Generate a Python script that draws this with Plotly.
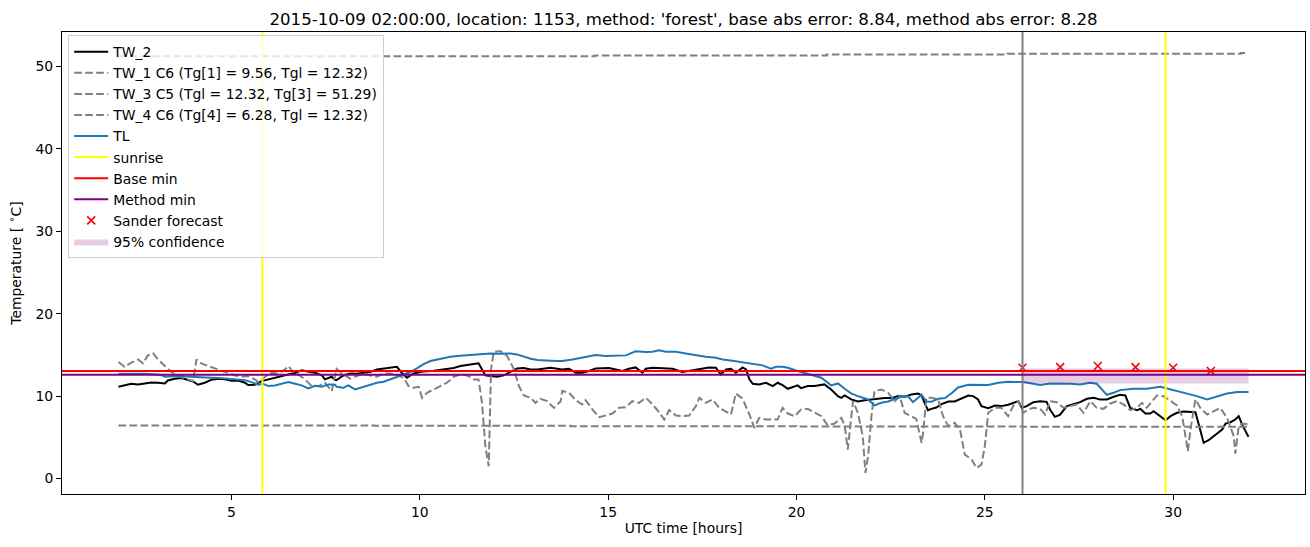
import plotly.graph_objects as go

TITLE = "2015-10-09 02:00:00, location: 1153, method: 'forest', base abs error: 8.84, method abs error: 8.28"

# ---- TW_2 (black) ----
tw2_hours = [2.0, 2.16, 2.34, 2.52, 2.69, 2.87, 3.05, 3.23, 3.31, 3.49, 3.67, 3.85, 3.98, 4.11, 4.29, 4.47, 4.65, 4.82, 5.00, 5.18, 5.36, 5.44, 5.62, 5.80, 5.98, 6.15, 6.33, 6.51, 6.69, 6.86, 7.04, 7.22, 7.40, 7.48, 7.66, 7.75,
             7.79, 7.97, 8.15, 8.33, 8.50, 8.68, 8.86, 9.04, 9.21, 9.39, 9.52, 9.66, 9.83, 10.10, 10.37, 10.63, 10.90, 11.08, 11.25, 11.43, 11.56, 11.65, 11.74, 11.87, 12.05, 12.23, 12.41, 12.58, 12.76, 12.94, 13.12, 13.29, 13.47, 13.65,
             13.78, 13.96, 14.14, 14.31, 14.49, 14.67, 14.85, 15.02, 15.20, 15.38, 15.55, 15.73, 15.91, 16.00, 16.18, 16.44, 16.71, 16.97, 17.24, 17.51, 17.68, 17.86, 17.99, 18.13, 18.26, 18.39, 18.57, 18.66, 18.75, 18.84, 19.01, 19.19, 19.37, 19.50, 19.63,
             19.77, 19.95, 20.03, 20.12, 20.30, 20.48, 20.66, 20.74, 20.92, 21.10, 21.19, 21.28, 21.45, 21.63, 21.81, 21.99, 22.16, 22.34, 22.52, 22.70, 22.87, 23.05, 23.23, 23.32, 23.40, 23.49, 23.58, 23.71, 23.85, 24.03, 24.20, 24.38, 24.56, 24.69, 24.82, 24.91, 25.09, 25.27, 25.44, 25.62,
             25.76, 25.89, 25.98, 26.11, 26.29, 26.47, 26.64, 26.73, 26.86, 26.99, 27.18, 27.35, 27.53, 27.71, 27.89, 28.06, 28.24, 28.42, 28.59, 28.73, 28.86, 29.04, 29.13, 29.26, 29.39, 29.48, 29.66, 29.80, 29.93, 30.10, 30.28, 30.46, 30.59, 30.68, 30.81, 30.94, 31.08, 31.21, 31.30, 31.39, 31.52, 31.65, 31.74, 31.83, 32.0]
tw2_temp = [11.13, 11.34, 11.50, 11.42, 11.58, 11.66, 11.62, 11.54, 11.90, 12.11, 12.19, 11.94, 11.78, 11.38, 11.62, 11.99, 12.11, 12.03, 11.86, 11.90, 11.62, 11.34, 11.38, 11.82, 12.03, 12.19, 12.35, 12.63, 12.84, 13.12, 13.00, 12.84, 12.51, 12.03, 12.35, 11.94,
            11.94, 12.51, 12.75, 12.71, 12.84, 12.92, 13.24, 13.36, 13.40, 13.56, 12.84, 12.23, 12.75, 13.00, 13.08, 13.24, 13.40, 13.65, 13.73, 13.89, 13.97, 13.24, 12.51, 12.43, 12.35, 12.51, 12.92, 13.36, 13.40, 13.24, 13.24, 13.36, 13.44, 13.32,
            13.24, 13.32, 12.84, 12.84, 13.04, 13.36, 13.36, 13.40, 13.24, 13.04, 13.32, 13.48, 12.84, 13.32, 13.44, 13.36, 13.32, 12.92, 13.16, 13.32, 13.48, 13.44, 12.63, 13.24, 13.32, 12.84, 13.48, 13.24, 12.03, 11.50, 11.42, 11.62, 11.22, 11.62, 11.34,
            10.89, 11.13, 11.30, 10.97, 11.22, 11.22, 11.34, 11.42, 10.81, 10.00, 9.80, 10.08, 9.60, 9.35, 9.51, 9.60, 9.72, 9.76, 9.76, 10.00, 9.92, 10.20, 10.32, 10.08, 9.19, 8.30, 8.46, 8.62, 9.03, 9.35, 9.35, 9.72, 10.08, 10.00, 9.60, 8.79, 8.54, 8.87, 8.79, 8.95,
            9.19, 9.39, 8.58, 8.79, 9.27, 9.39, 9.31, 8.38, 7.49, 7.73, 8.79, 9.07, 9.27, 9.68, 9.80, 9.60, 9.60, 9.92, 10.16, 10.08, 8.58, 8.30, 8.46, 7.89, 7.89, 8.18, 7.57, 7.08, 7.57, 7.98, 8.14, 8.06, 8.06, 6.56, 4.33, 4.65, 5.14, 5.63, 5.95, 6.68, 6.84, 7.16, 7.57, 6.56, 5.06]

# ---- TW_1 (grey dashed, variable) ----
tw1_hours = [2.0, 2.16, 2.34, 2.52, 2.65, 2.78, 2.92, 3.05, 3.23, 3.40, 3.58, 3.85, 3.98, 4.07, 4.20, 4.38, 4.56, 4.73, 4.91, 5.09, 5.27, 5.44, 5.62, 5.71, 5.89, 6.06, 6.24, 6.42, 6.51, 6.64, 6.77, 6.95, 7.13, 7.31, 7.48, 7.66, 7.79,
             7.97, 8.15, 8.33, 8.50, 8.68, 8.86, 9.04, 9.21, 9.39, 9.57, 9.70, 9.83, 9.97, 10.06, 10.19, 10.37, 10.54, 10.72, 10.90, 11.08, 11.25, 11.43, 11.56, 11.65, 11.74, 11.83, 11.89, 11.96, 12.14, 12.32, 12.50, 12.63, 12.76, 12.94, 13.07, 13.20, 13.38, 13.56, 13.74,
             13.78, 13.96, 14.14, 14.31, 14.40, 14.58, 14.76, 14.93, 15.11, 15.29, 15.47, 15.64, 15.82, 16.00, 16.18, 16.35, 16.49, 16.62, 16.80, 16.97, 17.15, 17.33, 17.42, 17.59, 17.77, 17.95, 18.13, 18.26, 18.39, 18.57, 18.75, 18.88, 19.01, 19.19, 19.37, 19.50, 19.63,
             19.77, 19.95, 20.12, 20.30, 20.48, 20.66, 20.83, 21.01, 21.19, 21.28, 21.36, 21.50, 21.63, 21.76, 21.83, 21.90, 21.99, 22.07, 22.25, 22.43, 22.61, 22.74, 22.87, 23.05, 23.18, 23.32, 23.36, 23.45, 23.58, 23.76, 23.89, 24.03, 24.20, 24.34, 24.47, 24.65, 24.78, 24.91, 25.00, 25.09, 25.27, 25.44, 25.62,
             25.76, 25.89, 26.02, 26.16, 26.29, 26.47, 26.60, 26.73, 26.91, 27.09, 27.26, 27.44, 27.62, 27.80, 27.97, 28.15, 28.33, 28.51, 28.68, 28.86, 29.04, 29.17, 29.30, 29.44, 29.57, 29.75, 29.93, 30.10, 30.24, 30.32, 30.39, 30.46, 30.59, 30.72, 30.90, 31.08, 31.25, 31.43, 31.61, 31.65, 31.74, 31.83, 32.0]
tw1_temp = [14.13, 13.56, 14.05, 14.45, 13.97, 14.94, 15.18, 14.45, 13.65, 12.92, 12.43, 12.03, 11.82, 14.45, 13.97, 13.65, 13.32, 13.08, 12.84, 12.51, 12.35, 12.43, 12.03, 11.70, 12.35, 12.84, 12.75, 13.24, 13.65, 12.92, 12.63, 12.03, 11.22, 11.22, 11.62, 10.61, 13.32,
            12.63, 12.11, 12.43, 12.75, 12.51, 12.35, 12.75, 12.75, 12.51, 12.23, 11.22, 11.01, 11.13, 9.80, 10.41, 10.81, 11.22, 11.62, 12.35, 12.63, 12.51, 12.03, 12.03, 9.19, 3.92, 1.50, 13.24, 15.35, 15.47, 14.86, 13.24, 11.22, 10.08, 9.80, 9.19, 9.68, 9.39, 8.58, 9.39,
            10.61, 10.41, 9.51, 8.99, 9.51, 8.38, 7.45, 7.65, 7.89, 8.58, 8.66, 9.39, 9.19, 9.80, 8.99, 8.06, 7.16, 8.30, 7.65, 7.57, 7.65, 8.79, 9.80, 9.19, 9.60, 8.58, 8.06, 7.77, 10.32, 9.68, 7.77, 6.15, 7.37, 7.16, 7.16, 7.16, 8.58,
            7.89, 7.57, 8.38, 8.46, 8.06, 7.57, 6.44, 6.68, 7.37, 6.44, 3.52, 9.39, 7.98, 5.14, 0.68, 2.71, 7.57, 10.61, 10.81, 10.41, 9.39, 10.00, 7.98, 7.57, 7.25, 4.33, 5.55, 9.80, 9.80, 9.60, 7.57, 6.35, 6.76, 5.95, 2.91, 2.31, 1.29, 1.70, 3.92, 7.98, 8.58, 8.58, 7.57,
            8.87, 9.39, 7.98, 8.38, 8.58, 8.46, 7.77, 9.39, 9.27, 8.58, 8.79, 8.99, 7.98, 9.39, 8.58, 8.46, 9.11, 9.39, 8.99, 8.30, 8.58, 9.19, 8.58, 9.39, 10.08, 10.00, 9.39, 8.87, 7.57, 5.34, 3.32, 5.95, 9.60, 8.58, 7.77, 8.18, 8.58, 7.37, 5.14, 3.03, 6.35, 6.68, 6.56]

# ---- TW_3 (grey dashed, top) ----
tw3_hours = [2.0, 14.64, 20.8, 25.6, 31.8, 32.0]
tw3_temp = [51.22, 51.31, 51.43, 51.51, 51.60, 51.60]

# ---- TW_4 (grey dashed, bottom) ----
tw4_hours = [2.0, 8.8, 14.0, 20.0, 26.0, 32.0]
tw4_temp = [6.43, 6.40, 6.36, 6.33, 6.28, 6.25]

# ---- TL (blue) ----
tl_hours = [2.0, 2.69, 3.14, 3.23, 3.58, 3.94, 4.29, 4.65, 5.00, 5.36, 5.53, 5.71, 5.84, 5.98, 6.15, 6.33, 6.51, 6.69, 6.86, 7.04, 7.22, 7.40, 7.57, 7.75,
            7.79, 7.97, 8.10, 8.28, 8.50, 8.68, 8.86, 9.04, 9.21, 9.39, 9.57, 9.75, 9.92, 10.10, 10.28, 10.46, 10.63, 10.81, 10.99, 11.17, 11.34, 11.52, 11.70, 11.87, 12.05, 12.23, 12.41, 12.58, 12.76, 12.94, 13.12, 13.29, 13.47, 13.65,
            13.78, 14.05, 14.31, 14.49, 14.67, 14.93, 15.20, 15.47, 15.73, 16.00, 16.18, 16.35, 16.53, 16.80, 17.06, 17.33, 17.59, 17.86, 18.04, 18.30, 18.57, 18.84, 19.10, 19.32, 19.46, 19.63,
            19.77, 20.03, 20.30, 20.66, 20.92, 21.10, 21.28, 21.45, 21.63, 21.90, 22.07, 22.25, 22.43, 22.61, 22.78, 22.96, 23.09, 23.23, 23.32, 23.45, 23.58, 23.76, 23.94, 24.11, 24.29, 24.56, 24.82, 25.09, 25.36, 25.62,
            25.76, 26.02, 26.29, 26.47, 26.73, 26.99, 27.26, 27.53, 27.80, 27.97, 28.11, 28.24, 28.42, 28.59, 28.95, 29.30, 29.66, 29.84, 30.01, 30.37, 30.63, 30.90, 31.17, 31.43, 31.70, 32.0]
tl_temp = [12.71, 12.71, 12.55, 12.35, 12.43, 12.39, 12.27, 12.19, 12.07, 11.94, 11.70, 11.38, 11.50, 11.22, 11.30, 11.54, 11.70, 11.50, 11.30, 10.93, 11.26, 11.13, 11.42, 11.38,
           11.13, 11.01, 11.30, 10.81, 11.13, 11.42, 11.62, 11.74, 12.03, 12.27, 12.63, 12.92, 13.36, 13.89, 14.25, 14.45, 14.62, 14.78, 14.86, 14.94, 14.94, 15.06, 15.10, 15.18, 15.14, 15.18, 15.18, 15.06, 14.78, 14.54, 14.37, 14.37, 14.29, 14.25,
           14.25, 14.45, 14.66, 14.78, 14.98, 14.86, 14.86, 14.94, 15.43, 15.35, 15.39, 15.55, 15.39, 15.39, 15.18, 14.94, 14.78, 14.66, 14.45, 14.29, 14.13, 13.89, 13.73, 13.32, 13.56, 13.56,
           13.44, 13.04, 12.71, 12.23, 11.30, 11.54, 10.89, 10.32, 10.00, 9.60, 8.87, 9.19, 9.35, 9.68, 9.92, 10.00, 9.27, 9.80, 10.16, 9.35, 9.31, 9.68, 9.76, 10.32, 11.05, 11.38, 11.34, 11.34, 11.62, 11.74,
           11.70, 11.70, 11.50, 11.34, 11.54, 11.54, 11.50, 11.42, 11.62, 11.50, 10.81, 10.16, 10.41, 10.73, 10.89, 10.89, 11.13, 10.93, 10.73, 10.32, 10.00, 9.60, 10.00, 10.32, 10.49, 10.49]

# ---- reference lines ----
sunrise_hours = [5.82, 29.80]
forecast_start_hour = 26.0
base_min = 13.04
method_min = 12.60

# ---- Sander forecast and confidence ----
sander_hours = [26, 27, 28, 29, 30, 31]
sander_temp = [13.44, 13.52, 13.65, 13.52, 13.44, 13.04]
conf_hours = [26, 27, 28, 29, 30, 31, 32]
conf_low = [11.54, 11.54, 11.54, 11.54, 11.54, 11.54, 11.54]
conf_high = [13.36, 13.36, 13.36, 13.36, 13.36, 13.36, 13.36]

# ---- axis ticks ----
x_ticks = [5, 10, 15, 20, 25, 30]
y_ticks = [0, 10, 20, 30, 40, 50]

FONT = "DejaVu Sans"
FS = 13.9
DASH = "7.7px,3.3px"
GREY = "#808080"

fig = go.Figure()
fig.add_trace(go.Scatter(x=tw2_hours, y=tw2_temp, mode="lines", name="TW_2",
                         line=dict(color="black", width=2), legendrank=1))
fig.add_trace(go.Scatter(x=tw1_hours, y=tw1_temp, mode="lines", name="TW_1 C6 (Tg[1] = 9.56, Tgl = 12.32)",
                         line=dict(color=GREY, width=2, dash=DASH), legendrank=2))
fig.add_trace(go.Scatter(x=tw3_hours, y=tw3_temp, mode="lines", name="TW_3 C5 (Tgl = 12.32, Tg[3] = 51.29)",
                         line=dict(color=GREY, width=2, dash=DASH, shape="hv"), legendrank=3))
fig.add_trace(go.Scatter(x=tw4_hours, y=tw4_temp, mode="lines", name="TW_4 C6 (Tg[4] = 6.28, Tgl = 12.32)",
                         line=dict(color=GREY, width=2, dash=DASH, shape="hv"), legendrank=4))
fig.add_trace(go.Scatter(x=tl_hours, y=tl_temp, mode="lines", name="TL",
                         line=dict(color="#1f77b4", width=2), legendrank=5))
fig.add_trace(go.Scatter(x=sander_hours, y=sander_temp, mode="markers", name="Sander forecast",
                         marker=dict(symbol="x-thin", size=8, line=dict(color="red", width=1.6), color="red"),
                         legendrank=9))
fig.add_trace(go.Scatter(x=conf_hours, y=conf_low, mode="lines", line=dict(width=0, color="rgba(0,0,0,0)"),
                         showlegend=False, hoverinfo="skip"))
fig.add_trace(go.Scatter(x=conf_hours, y=conf_high, mode="lines", line=dict(width=0, color="rgba(0,0,0,0)"),
                         fill="tonexty", fillcolor="rgba(128,0,128,0.2)", name="95% confidence", legendrank=10))

shapes = []
for i, h in enumerate(sunrise_hours):
    shapes.append(dict(type="line", xref="x", yref="y domain", x0=h, x1=h, y0=0, y1=1,
                       line=dict(color="#ffff00", width=2), layer="above",
                       name="sunrise", showlegend=(i == 0), legendrank=6))
shapes.append(dict(type="line", xref="x", yref="y domain", x0=forecast_start_hour, x1=forecast_start_hour,
                   y0=0, y1=1, line=dict(color=GREY, width=2), layer="above", showlegend=False))
shapes.append(dict(type="line", xref="x domain", yref="y", x0=0, x1=1, y0=base_min, y1=base_min,
                   line=dict(color="red", width=2), layer="above", name="Base min", showlegend=True, legendrank=7))
shapes.append(dict(type="line", xref="x domain", yref="y", x0=0, x1=1, y0=method_min, y1=method_min,
                   line=dict(color="#800080", width=2), layer="above", name="Method min", showlegend=True, legendrank=8))

# axis ranges as matplotlib's 5% margins
all_x = tw2_hours + tw1_hours + tl_hours
xmin, xmax = min(all_x), max(all_x)
all_y = tw1_temp + tw2_temp + tw3_temp + tw4_temp + tl_temp
ymin, ymax = min(all_y), max(all_y)
xpad = 0.05 * (xmax - xmin)
ypad = 0.05 * (ymax - ymin)

axis_common = dict(showgrid=False, zeroline=False, showline=True, linecolor="black", linewidth=1,
                   mirror=True, ticks="outside", ticklen=5, tickwidth=1, tickcolor="black",
                   automargin=False,
                   tickfont=dict(family=FONT, size=FS, color="black"))

fig.update_layout(
    width=1310, height=547,
    margin=dict(l=62, r=5, t=32, b=53),
    paper_bgcolor="white", plot_bgcolor="white",
    font=dict(family=FONT, color="black"),
    title=dict(text=TITLE, x=0.5, xref="paper", xanchor="center", y=1 - 19 / 547, yref="container",
               yanchor="middle", font=dict(family=FONT, size=16.6, color="black")),
    xaxis=dict(range=[xmin - xpad, xmax + xpad], tickvals=x_ticks,
               title=dict(text="UTC time [hours]", font=dict(family=FONT, size=FS), standoff=4),
               **axis_common),
    yaxis=dict(range=[ymin - ypad, ymax + ypad], tickvals=y_ticks,
               title=dict(text="Temperature [ <sup>∘</sup>C]", font=dict(family=FONT, size=FS), standoff=10),
               **axis_common),
    legend=dict(x=0.005, y=0.993, xanchor="left", yanchor="top", bgcolor="rgba(255,255,255,0.8)",
                bordercolor="#d0d0d0", borderwidth=1, font=dict(family=FONT, size=FS, color="black"),
                traceorder="normal", itemwidth=34, tracegroupgap=0),
    shapes=shapes,
    showlegend=True,
)

fig.write_html("out.html", config={"displayModeBar": False},
               post_script="document.body.style.margin='0';document.body.style.padding='0';")
